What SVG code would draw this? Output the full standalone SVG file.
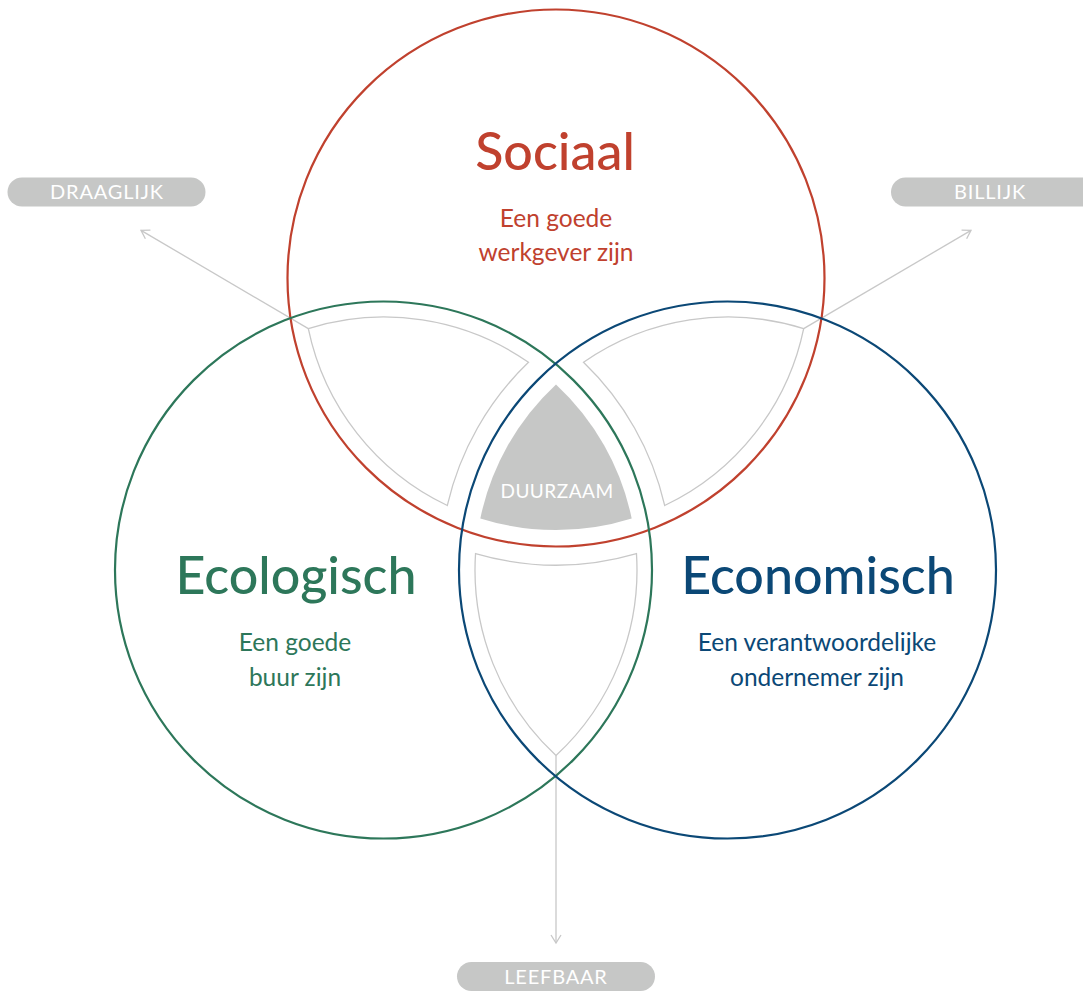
<svg xmlns="http://www.w3.org/2000/svg" width="1083" height="992" viewBox="0 0 1083 992">
<style>
  .circ { fill: none; stroke-width: 2.2; }
  .inner { fill: none; stroke: #c8c8c8; stroke-width: 1.3; }
  .conn { fill: none; stroke: #c8c8c8; stroke-width: 1.3; }
  .pill { fill: #c6c7c6; }
  .pilltxt { font-family: Lato, "Liberation Sans", sans-serif; font-size: 20px; fill: #ffffff; text-anchor: middle; letter-spacing: 0.8px; }
  .title { font-family: Lato, "Liberation Sans", sans-serif; font-size: 52px; font-weight: 500; text-anchor: middle; }
  .sub { font-family: Lato, "Liberation Sans", sans-serif; font-size: 24.5px; font-weight: 400; text-anchor: middle; }
</style>
<defs>
  <marker id="arr" markerUnits="userSpaceOnUse" markerWidth="12" markerHeight="12" viewBox="0 0 12 12" refX="10" refY="6" orient="auto">
    <path d="M2,1 L10,6 L2,11" fill="none" stroke="#c8c8c8" stroke-width="1.3"/>
  </marker>
</defs>
<rect width="1083" height="992" fill="#ffffff"/>

<g id="connectors">
  <path class="conn" d="M308.32,328.59 L141,230.4" marker-end="url(#arr)"/>
  <path class="conn" d="M803.68,328.59 L971,230.4" marker-end="url(#arr)"/>
  <path class="conn" d="M556,755.54 L556,943" marker-end="url(#arr)"/>
</g>

<g id="overlaps">
  <path class="inner" d="M308.32,328.59 A253,253 0 0 1 528.48,362.31 A288,288 0 0 0 447.32,505.47 A253,253 0 0 1 308.32,328.59 Z"/>
  <path class="inner" d="M803.68,328.59 A253,253 0 0 0 583.52,362.31 A288,288 0 0 1 664.68,505.47 A253,253 0 0 0 803.68,328.59 Z"/>
  <path class="inner" d="M475.54,553.53 A288,288 0 0 0 636.46,553.53 A253,253 0 0 1 556,755.54 A253,253 0 0 1 475.54,553.53 Z"/>
</g>

<g id="duurzaam">
  <path fill="#c6c7c6" d="M556,384.46 A253,253 0 0 1 631.68,518.41 A253,253 0 0 1 480.32,518.41 A253,253 0 0 1 556,384.46 Z"/>
  <text class="pilltxt" x="557" y="497.5" style="font-size:19px;letter-spacing:0.5px">DUURZAAM</text>
</g>

<g id="sociaal">
  <circle class="circ" cx="556" cy="278" r="268.5" stroke="#c0412e"/>
  <text class="title" x="555" y="170" fill="#c0412e">Sociaal</text>
  <text class="sub" x="556" y="227" fill="#c0412e">Een goede</text>
  <text class="sub" x="556" y="261" fill="#c0412e">werkgever zijn</text>
</g>

<g id="ecologisch">
  <circle class="circ" cx="383.5" cy="570" r="268.5" stroke="#2d775a"/>
  <text class="title" x="296" y="594" fill="#2d775a">Ecologisch</text>
  <text class="sub" x="295" y="651" fill="#2d775a">Een goede</text>
  <text class="sub" x="295" y="686" fill="#2d775a">buur zijn</text>
</g>

<g id="economisch">
  <circle class="circ" cx="727.5" cy="570" r="268.5" stroke="#0b4876"/>
  <text class="title" x="818" y="594" fill="#0b4876">Economisch</text>
  <text class="sub" x="817" y="651" fill="#0b4876">Een verantwoordelijke</text>
  <text class="sub" x="817" y="686" fill="#0b4876">ondernemer zijn</text>
</g>

<g id="draaglijk">
  <rect class="pill" x="7.5" y="177.5" width="198" height="29" rx="14.5"/>
  <text class="pilltxt" x="107" y="199">DRAAGLIJK</text>
</g>

<g id="billijk">
  <rect class="pill" x="891" y="177.5" width="210" height="29" rx="14.5"/>
  <text class="pilltxt" x="990" y="199">BILLIJK</text>
</g>

<g id="leefbaar">
  <rect class="pill" x="457" y="962" width="198" height="29" rx="14.5"/>
  <text class="pilltxt" x="556" y="983.5">LEEFBAAR</text>
</g>
</svg>
